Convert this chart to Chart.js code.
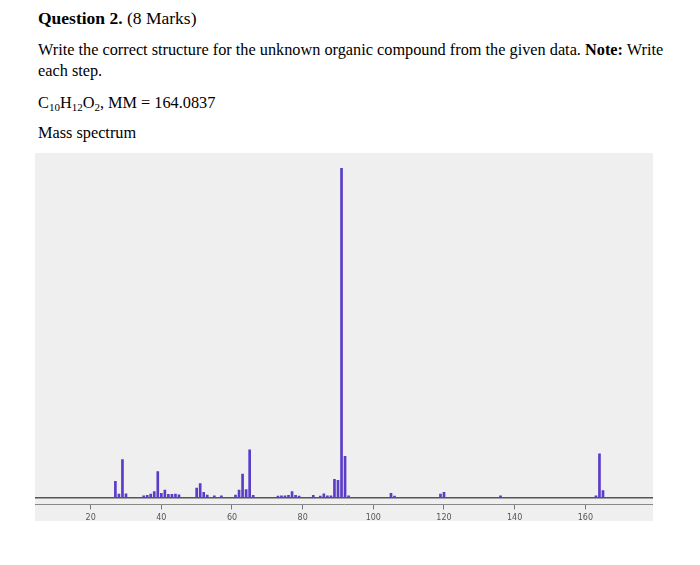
<!DOCTYPE html>
<html>
<head>
<meta charset="utf-8">
<script src="https://cdn.jsdelivr.net/npm/chart.js@4.4.1/dist/chart.umd.min.js"></script>
<style>
  body { margin: 0; background: #fff; font-family: "Liberation Serif", "Times New Roman", serif; color: #000; }
  .line { position: absolute; left: 38px; font-size: 16.3px; white-space: nowrap; }
  sub { font-size: 11px; vertical-align: -3px; line-height: 0; }
  #wrap { position: absolute; left: 35px; top: 153px; width: 618px; height: 368px; background: #efefef; }
  #msChart { position: absolute; left: 0; top: 0; }
</style>
</head>
<body>
<div class="line" style="top:8px;font-size:17.5px"><b>Question 2.</b> (8 Marks)</div>
<div class="line" style="top:40px">Write the correct structure for the unknown organic compound from the given data. <b>Note:</b> Write</div>
<div class="line" style="top:61px">each step.</div>
<div class="line" style="top:93px">C<sub>10</sub>H<sub>12</sub>O<sub>2</sub>, MM = 164.0837</div>
<div class="line" style="top:123px">Mass spectrum</div>
<div id="wrap"><canvas id="msChart" width="618" height="374"></canvas></div>
<script>
// m/z values and relative intensities (%)
const mzValues = [27, 28, 29, 30, 35, 36, 37, 38, 39, 40, 41, 42, 43, 44, 45,
    50, 51, 52, 53, 55, 57, 61, 62, 63, 64, 65, 66,
    73, 74, 75, 76, 77, 78, 79, 83, 85, 86, 87, 88, 89, 90, 91, 92, 93,
    105, 106, 119, 120, 136, 163, 164, 165];
const intensities = [4.9, 1.0, 11.5, 1.1, 0.5, 0.6, 1.0, 1.8, 7.8, 1.2, 2.2, 0.9, 0.9, 1.0, 0.8,
    2.8, 4.2, 1.5, 0.7, 0.5, 0.5, 0.7, 2.2, 7.1, 2.4, 14.4, 0.6,
    0.4, 0.5, 0.5, 0.6, 1.8, 0.6, 0.4, 0.6, 0.4, 1.1, 0.5, 0.5, 5.5, 5.2, 100, 12.5, 0.5,
    1.2, 0.4, 1.0, 1.5, 0.5, 0.5, 13.2, 2.1];
const xTicks = [20, 40, 60, 80, 100, 120, 140, 160];

const peakColor = '#5a3cc8';

new Chart(document.getElementById('msChart'), {
    type: 'bar',
    data: {
        datasets: [{
            label: 'Mass spectrum',
            data: mzValues.map((m, i) => ({ x: m, y: intensities[i] })),
            backgroundColor: peakColor,
            borderWidth: 0,
            barThickness: 2
        }]
    },
    options: {
        responsive: false,
        animation: false,
        layout: { padding: { top: 15, left: 0, right: 0, bottom: 0 } },
        scales: {
            x: {
                type: 'linear',
                min: 4.25,
                max: 179.15,
                offset: false,
                afterBuildTicks: axis => { axis.ticks = xTicks.map(v => ({ value: v })); },
                grid: { offset: false, drawOnChartArea: false, drawTicks: true, tickLength: 5, color: '#777' },
                border: { display: true, color: '#888' },
                ticks: { font: { size: 8, family: 'DejaVu Sans' }, color: '#555', padding: 4, maxRotation: 0 }
            },
            y: {
                min: -2.13,
                max: 100,
                afterBuildTicks: axis => { axis.ticks = [{ value: 0 }]; },
                grid: { color: '#555', lineWidth: 1.5, drawTicks: false },
                border: { display: false },
                ticks: { display: false }
            }
        },
        plugins: {
            legend: { display: false },
            tooltip: { enabled: false }
        }
    }
});
</script>
</body>
</html>
